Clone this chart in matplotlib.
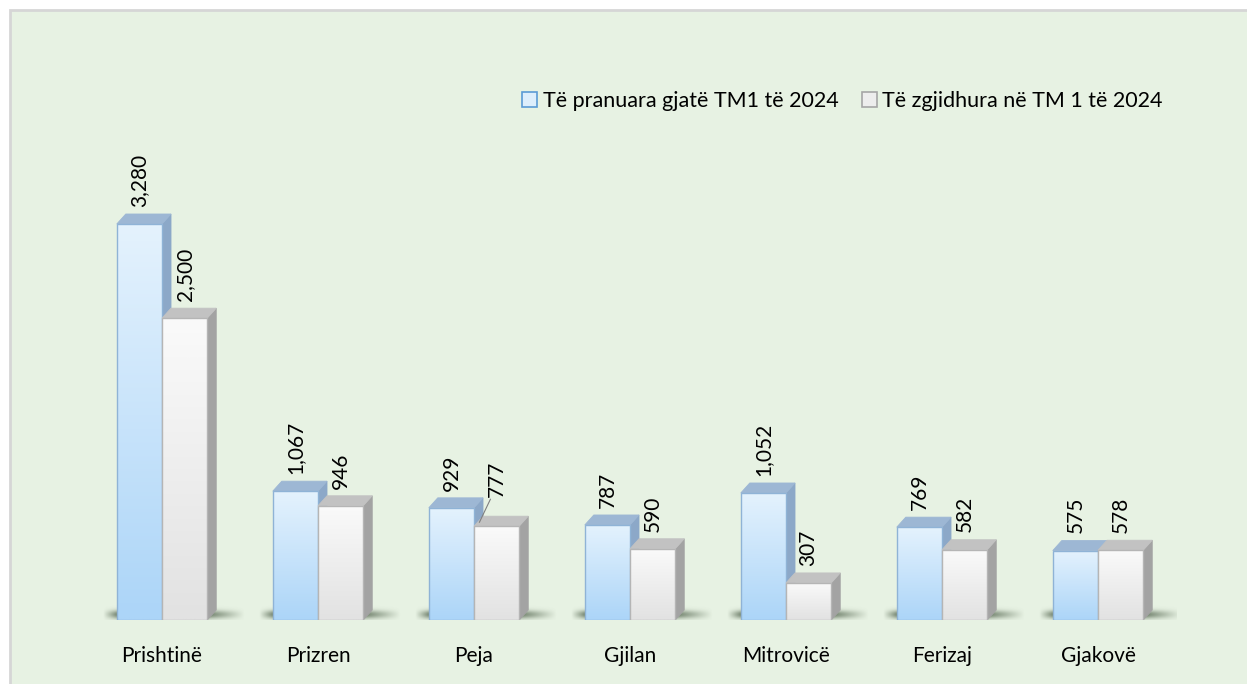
import numpy as np
import matplotlib.pyplot as plt
from matplotlib.colors import to_rgb
from matplotlib.patches import Rectangle, Polygon, Patch

# Cases per region, first trimester 2024
regions = ['Prishtinë', 'Prizren', 'Peja', 'Gjilan', 'Mitrovicë', 'Ferizaj', 'Gjakovë']
received = [3280, 1067, 929, 787, 1052, 769, 575]
resolved = [2500, 946, 777, 590, 307, 582, 578]
series_names = ['Të pranuara gjatë TM1 të 2024', 'Të zgjidhura në TM 1 të 2024']

plt.rcParams['font.family'] = ['Lato', 'DejaVu Sans']
FS = 15

W, H = 1247, 684
fig = plt.figure(figsize=(W / 100, H / 100), dpi=100)
fig.patch.set_facecolor('white')

# chart area background with a thin grey frame
fig.patches.append(Rectangle((10 / W, -0.01), 1.01, 1 - 10 / H + 0.01,
                             transform=fig.transFigure, facecolor='#E7F2E3',
                             edgecolor='#D6D6D6', linewidth=2, zorder=-5))

base_px, top_px = 620, 130
ax = fig.add_axes([84 / W, (H - base_px) / H, 1092 / W, (base_px - top_px) / H])
ax.set_facecolor('none')
ymax = (base_px - top_px) / 396 * 3280
for s in ax.spines.values():
    s.set_visible(False)
ax.tick_params(left=False, bottom=False, labelleft=False)
ax.set_xticks(range(len(regions)))
ax.set_xticklabels(regions, fontsize=FS)
ax.tick_params(axis='x', pad=15)

bw = 0.29
dx = 9 / 156
dy = 10 / 396 * 3280

styles = [
    dict(top='#E4F2FD', bottom='#ACD5F8', edge='#8FB3D6', side='#8CA8C8', roof='#9DB7D4'),
    dict(top='#FAFAFA', bottom='#E2E2E2', edge='#B5B5B5', side='#A3A3A3', roof='#C2C2C2'),
]


def gradient(c_top, c_bot, n=64):
    a = np.array(to_rgb(c_top))
    b = np.array(to_rgb(c_bot))
    t = np.linspace(0, 1, n)[:, None]
    return (a * (1 - t) + b * t)[:, None, :]


# soft floor shadow under each pair
sh_y = np.linspace(-1, 1, 40)[:, None]
sh_x = np.linspace(0, 1, 200)[None, :]
sh_alpha = np.exp(-(sh_y / 0.4) ** 2) * np.clip(np.minimum(sh_x / 0.12, (1 - sh_x) / 0.3), 0, 1) * 0.9
shadow = np.zeros((40, 200, 4))
shadow[..., :3] = to_rgb('#4E6049')
shadow[..., 3] = sh_alpha

for i in range(len(regions)):
    ax.imshow(shadow, extent=(i - bw - 0.09, i + bw + 0.24, -40, 130),
              aspect='auto', zorder=1, interpolation='bilinear')
    for k, vals in enumerate([received, resolved]):
        st = styles[k]
        v = vals[i]
        x0 = i - bw if k == 0 else i
        x1 = x0 + bw
        z = 2 + k * 3
        ax.add_patch(Polygon([(x1, 0), (x1 + dx, dy), (x1 + dx, v + dy), (x1, v)],
                             closed=True, facecolor=st['side'], edgecolor=st['side'],
                             linewidth=0.6, zorder=z))
        ax.add_patch(Polygon([(x0, v), (x0 + dx, v + dy), (x1 + dx, v + dy), (x1, v)],
                             closed=True, facecolor=st['roof'], edgecolor=st['roof'],
                             linewidth=0.6, zorder=z))
        bar = ax.bar(x0, v, width=bw, align='edge', facecolor='none',
                     edgecolor=st['edge'], linewidth=1.0, zorder=z + 2)[0]
        img = ax.imshow(gradient(st['top'], st['bottom']), extent=(x0, x1, 0, v),
                        aspect='auto', zorder=z + 1, interpolation='bilinear')
        img.set_clip_path(bar)

        # value label above the bar
        cx = x0 + bw / 2
        lift = 100 if (k == 1 and i == 2) else 0
        yl = v + dy + 60 + lift
        ax.text(cx, yl, f'{v:,}', rotation=90, ha='center', va='bottom',
                fontsize=FS, color='black', zorder=10, clip_on=False)
        if lift:
            ax.plot([cx - 0.11, cx - 0.04], [v + dy * 0.4, yl - 20],
                    color='#7F7F7F', linewidth=0.8, zorder=10)

ax.set_xlim(-0.5, len(regions) - 0.5)
ax.set_ylim(0, ymax)

handles = [Patch(facecolor='#DDEEFC', edgecolor='#5B9BD5', linewidth=1.2),
           Patch(facecolor='#EDEDED', edgecolor='#A6A6A6', linewidth=1.2)]
fig.legend(handles, series_names, loc='center',
           bbox_to_anchor=((520 + 1165) / 2 / W, 1 - 101 / H), ncol=2,
           frameon=False, fontsize=15.5, handlelength=0.7, handleheight=0.7,
           handletextpad=0.25, columnspacing=1.1)

fig.savefig('out.png', dpi=100, facecolor='white')
